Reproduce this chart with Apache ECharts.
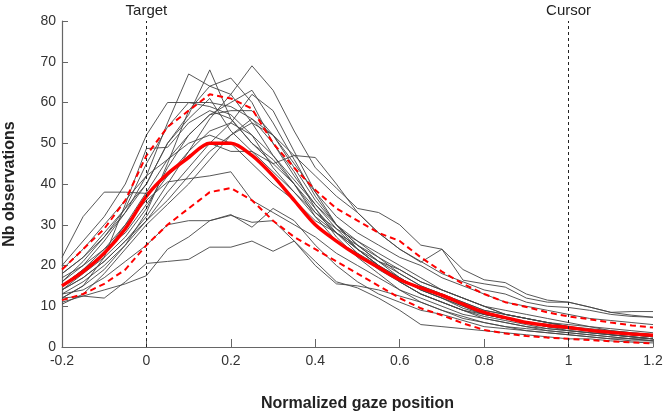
<!DOCTYPE html>
<html><head><meta charset="utf-8">
<script src="https://cdn.jsdelivr.net/npm/echarts@6/dist/echarts.min.js"></script>
<style>html,body{margin:0;padding:0;background:#fff}#c{width:666px;height:415px}</style>
</head><body><div id="c"></div>
<script>
const xValues = [-0.2,-0.15,-0.1,-0.05,0,0.05,0.1,0.15,0.2,0.25,0.3,0.35,0.4,0.45,0.5,0.55,0.6,0.65,0.7,0.75,0.8,0.85,0.9,0.95,1.0,1.05,1.1,1.15,1.2];
const xTicks = [-0.2,0,0.2,0.4,0.6,0.8,1,1.2];
const yTicks = [0,10,20,30,40,50,60,70,80];
const markerNames = ['Target','Cursor'];
const markerX = [0,1];

const subj01 = [14,17,21,26,32,40,48,56,62,69,63,53,44,39,34,33,30,25,24,19,16.5,15.8,13,11.5,11,9.8,8.5,8.7,8.7];
const subj02 = [18,22,27,33,40,50,57,68,56,50,46,40,33,28,25,22,18,15,13,11,9,8,7,6,5.5,5,4,3.5,3];
const subj03 = [16,20,26,33,42,55,67,64,62,55,47,40,32,26,23,20,17,14,12,10,8,7,6,5,4.5,4,3.5,3,2.5];
const subj04 = [13,16,20,25,33,45,58,64,66,60,50,42,35,30,25,21,18,15,13,11,9,8,7,6,5,4,3.5,3,2.5];
const subj05 = [20,26,32,40,52,60,60,59,57,52,44,38,32,28,24,20,17,14,12,10,8,7,6,5.5,4.5,4,3.5,3,2.5];
const subj06 = [15,19,24,30,38,46,52,57,60,63,55,46,37,30,26,22,19,16,14,12,10,9,8,7,6,5,4.5,4,3.5];
const subj07 = [12,12.5,12,16,20.5,21,21.5,24.5,24.5,26,23.5,26,21,16,14.5,12,9,5.5,5,4.5,4,3.5,3,2.5,2,2,1.5,1.2,1];
const subj08 = [11,12.5,14,15.5,17.5,24,27,31,32.3,30.6,31,26,20,15.5,15,14,12.5,11,9,7.5,6,5,4.5,4,3.5,3,2.5,2,1.5];
const subj09 = [13,14,17,21,25,30,31,31,32.5,29.4,34,31,25,20,16,13,11,9,8,6.5,5,4.5,4,3.5,3,2.5,2,2,1.5];
const subj10 = [15,19,23,30,36,40.5,41.3,42,43,36,33,30,27,23,20,17,14,12,10,8,7,6,5,4,3.5,3,2.5,2,2];
const subj11 = [22,32,38,38,37.7,42,48,53,55,52,47,41,35,29,24,20,16,13,11,9,7,6,5,4.5,4,3.5,3,2.5,2];
const subj12 = [12,15,22,35,48.7,49,55,58,56,50,45,40,34,28,23,19,16,13,11,9,8,7,6,5,4,3.5,3,2.5,2];
const subj13 = [18,22,28,34,40,50,56,61,53,48,45,47,46.5,40,33,28,24,20.8,24,16.4,15.5,14.7,12,11,11,9.8,8.5,7.8,7.3];
const subj14 = [14,17,21,26,31,36,42,48,52,55,52,47,42,37,33,28,24,21,18,16,14,13,11,10,9.7,9,8,7.5,7.3];
const subj15 = [16,21,27,34,45,54,60,60,59,56,50,43,34,27,22,18,14,11,9,7,6,5,4,3.5,3,2.5,2,1.5,1.5];
const subj16 = [10.5,13,18,24,30,35,40,46,52,56,52,44,36,30,25,21,17,14,12,9.5,8,7,6,5,4.5,4,3.5,3,2.5];
const subj17 = [17,20,24,28,35,42,47,50,48,48,43,38,33,29,26,23,20,17,14,12,10,8,7,6,5,4,3,2.5,2];
const subj18 = [12,15,19,25,31,38,44,50,55,62,58,48,38,30,24,20,16,13,11,9,7.5,6.5,5.5,4.5,4,3.5,3,2.5,2];
const subj19 = [19,24,30,36,42,46,50,52,50,45,40,36,31,28,24,21,19,16,14,12,10,8,7,6,5,4.5,4,3.5,3];
const subj20 = [14,18,22,27,34,44,52,57,58,58,52,45,38,32,28,25,22,20,17,15,13,11,10,9,8,7,6.5,6,5.5];

const meanValues  = [15,18.5,23,29,37,42.5,46.5,50,50,47,42,36,30,26,22.5,19.5,16.5,14.5,12.7,10.5,8.5,7.2,6,5.3,4.8,4.1,3.6,3.2,2.9];
const upperValues = [19,24,29,36,47,54,58,62,61,58.5,50,44,38.5,34,31,28,26,22,18.5,15.5,13,11,9.8,8.5,7.5,6.8,6,5.3,4.8];
const lowerValues = [11.5,13,15.5,19,25,30,34,38,39,36,31,27,24,21,18,15,12,9.5,7.8,5.8,4.2,3.3,2.7,2.3,2,1.7,1.4,1.1,0.9];

const subjects = [subj01,subj02,subj03,subj04,subj05,subj06,subj07,subj08,subj09,subj10,subj11,subj12,subj13,subj14,subj15,subj16,subj17,subj18,subj19,subj20];

function pairs(vals){ return vals.map((v,i)=>[xValues[i], v]); }

const FONT = 'Liberation Sans, Arial, sans-serif';
const series = subjects.map(s => ({
  type:'line', data:pairs(s), symbol:'none', silent:true,
  lineStyle:{color:'#444', width:0.9}, z:2
}));
series.push({type:'line', data:pairs(upperValues), symbol:'none', lineStyle:{color:'#ff0000', width:2, type:[6,4]}, z:3});
series.push({type:'line', data:pairs(lowerValues), symbol:'none', lineStyle:{color:'#ff0000', width:2, type:[6,4]}, z:3});
series.push({type:'line', data:pairs(meanValues), symbol:'none', smooth:0.3, lineStyle:{color:'#ff0000', width:3.5}, z:4,
  markLine:{silent:true, symbol:['none','none'],
    lineStyle:{color:'#222', width:1, type:[3,3]},
    label:{show:true, position:'end', formatter:p=>p.name, color:'#222', fontSize:15, fontFamily:FONT, distance:3},
    data: markerX.map((x,i)=>({xAxis:x, name:markerNames[i]}))
  }});

const chart = echarts.init(document.getElementById('c'), null, {renderer:'canvas'});
chart.setOption({
  animation:false,
  grid:{left:62, right:13, top:21, bottom:68, containLabel:false, outerBoundsMode:'none'},
  xAxis:{type:'value', min:xTicks[0], max:xTicks[xTicks.length-1], interval:0.2,
    name:'Normalized gaze position', nameLocation:'middle', nameGap:49,
    nameTextStyle:{fontSize:16, fontWeight:'bold', color:'#222', fontFamily:FONT},
    axisLine:{show:true, onZero:false, lineStyle:{color:'#666', width:1.2}},
    axisTick:{show:true, inside:true, length:8, lineStyle:{color:'#666'}},
    axisLabel:{fontSize:14, color:'#333', margin:7, fontFamily:FONT, formatter:v=>String(Number(v.toFixed(2)))},
    splitLine:{show:false}},
  yAxis:{type:'value', min:yTicks[0], max:yTicks[yTicks.length-1], interval:10,
    name:'Nb observations', nameLocation:'middle', nameGap:44,
    nameTextStyle:{fontSize:16, fontWeight:'bold', color:'#222', fontFamily:FONT},
    axisLine:{show:true, onZero:false, lineStyle:{color:'#666', width:1.2}},
    axisTick:{show:true, inside:true, length:6, lineStyle:{color:'#666'}},
    axisLabel:{fontSize:14, color:'#333', margin:6, fontFamily:FONT},
    splitLine:{show:false}},
  series:series
});
</script></body></html>
